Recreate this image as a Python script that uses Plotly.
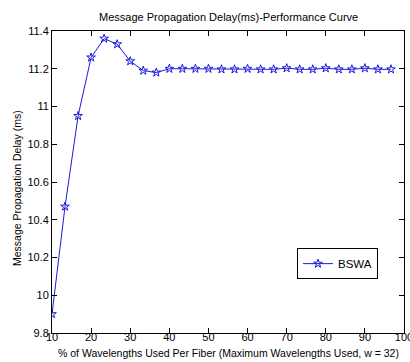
import plotly.graph_objects as go

# Share of wavelengths used per fiber (%), w = 32
wavelength_pct = [10, 13.33, 16.67, 20, 23.33, 26.67, 30, 33.33, 36.67, 40,
                  43.33, 46.67, 50, 53.33, 56.67, 60, 63.33, 66.67, 70, 73.33,
                  76.67, 80, 83.33, 86.67, 90, 93.33, 96.67]
# Message propagation delay for BSWA (ms)
bswa_delay = [9.9, 10.47, 10.95, 11.26, 11.36, 11.33, 11.24, 11.19, 11.18, 11.2,
              11.2, 11.2, 11.2, 11.197, 11.197, 11.2, 11.197, 11.197, 11.203, 11.197,
              11.197, 11.203, 11.197, 11.197, 11.203, 11.197, 11.197]

y_ticks = [9.8, 10, 10.2, 10.4, 10.6, 10.8, 11, 11.2, 11.4]
y_tick_text = ["9.8", "10", "10.2", "10.4", "10.6", "10.8", "11", "11.2", "11.4"]
x_ticks = [10, 20, 30, 40, 50, 60, 70, 80, 90, 100]

FONT = "Liberation Sans, Arial, sans-serif"
BLUE = "#1a1adc"

fig = go.Figure()
fig.add_trace(go.Scatter(
    x=wavelength_pct, y=bswa_delay, mode="lines+markers", name="BSWA",
    line=dict(color=BLUE, width=1),
    marker=dict(symbol="star-open", size=6.5, color=BLUE, line=dict(width=1, color=BLUE)),
))

axis_common = dict(
    showline=True, linecolor="black", linewidth=1, mirror="allticks",
    ticks="inside", ticklen=5, tickcolor="black", tickwidth=1,
    showgrid=False, zeroline=False, ticklabeloverflow="allow", automargin=False,
    tickfont=dict(family=FONT, size=11, color="black"),
)

fig.update_layout(
    width=410, height=362,
    margin=dict(l=52, r=6, t=31, b=29),
    paper_bgcolor="white", plot_bgcolor="white",
    font=dict(family=FONT, size=11, color="black"),
    showlegend=True,
    legend=dict(
        x=0.696, y=0.281, xanchor="left", yanchor="top",
        bgcolor="white", bordercolor="black", borderwidth=1,
        font=dict(family=FONT, size=11.5, color="black"),
        itemwidth=30, tracegroupgap=0,
    ),
    xaxis=dict(range=[10, 100], tickvals=x_ticks, ticklabelstandoff=-6, **axis_common),
    yaxis=dict(range=[9.8, 11.4], tickvals=y_ticks, ticktext=y_tick_text, **axis_common),
    annotations=[
        dict(text="Message Propagation Delay(ms)-Performance Curve",
             xref="paper", yref="paper", x=0.5, y=1 + 14 / 302,
             xanchor="center", yanchor="middle", showarrow=False,
             font=dict(family=FONT, size=11, color="black")),
        dict(text="% of Wavelengths Used Per Fiber (Maximum Wavelengths Used, w = 32)",
             xref="paper", yref="paper", x=0.5, y=-20 / 302,
             xanchor="center", yanchor="middle", showarrow=False,
             font=dict(family=FONT, size=10.5, color="black")),
        dict(text="Message Propagation Delay (ms)",
             xref="paper", yref="paper", x=-35 / 352, y=0.48, textangle=-90,
             xanchor="center", yanchor="middle", showarrow=False,
             font=dict(family=FONT, size=10.5, color="black")),
    ],
)

fig.write_html("out.html")
